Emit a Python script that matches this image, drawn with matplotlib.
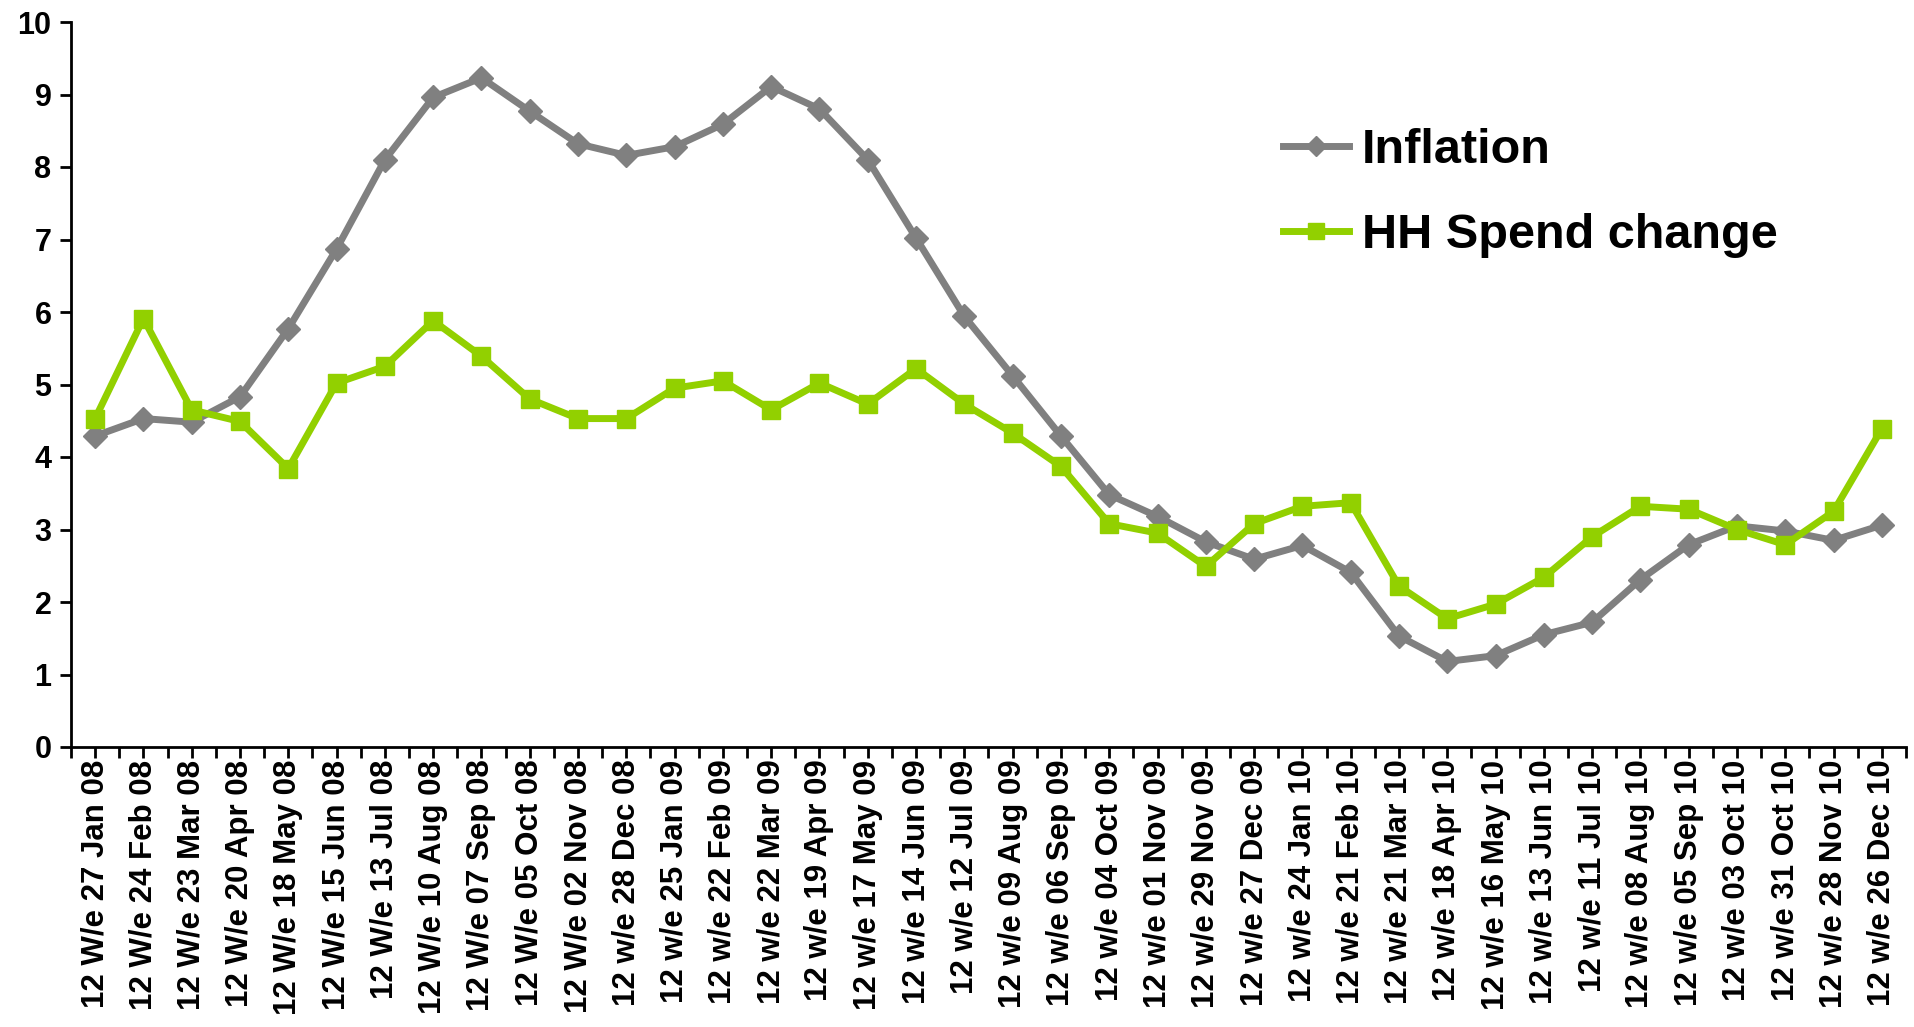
import matplotlib
matplotlib.use("Agg")
import matplotlib.pyplot as plt
from matplotlib.ticker import FixedLocator

plt.rcParams['font.family'] = ['Liberation Sans', 'DejaVu Sans']
plt.rcParams['font.weight'] = 'bold'

labels = [
    "12 W/e 27 Jan 08", "12 W/e 24 Feb 08", "12 W/e 23 Mar 08", "12 W/e 20 Apr 08",
    "12 W/e 18 May 08", "12 W/e 15 Jun 08", "12 W/e 13 Jul 08", "12 W/e 10 Aug 08",
    "12 W/e 07 Sep 08", "12 W/e 05 Oct 08", "12 W/e 02 Nov 08", "12 w/e 28 Dec 08",
    "12 w/e 25 Jan 09", "12 w/e 22 Feb 09", "12 w/e 22 Mar 09", "12 w/e 19 Apr 09",
    "12 w/e 17 May 09", "12 w/e 14 Jun 09", "12 w/e 12 Jul 09", "12 w/e 09 Aug 09",
    "12 w/e 06 Sep 09", "12 w/e 04 Oct 09", "12 w/e 01 Nov 09", "12 w/e 29 Nov 09",
    "12 w/e 27 Dec 09", "12 w/e 24 Jan 10", "12 w/e 21 Feb 10", "12 w/e 21 Mar 10",
    "12 w/e 18 Apr 10", "12 w/e 16 May 10", "12 w/e 13 Jun 10", "12 w/e 11 Jul 10",
    "12 w/e 08 Aug 10", "12 w/e 05 Sep 10", "12 w/e 03 Oct 10", "12 w/e 31 Oct 10",
    "12 w/e 28 Nov 10", "12 w/e 26 Dec 10",
]

inflation = [4.29, 4.53, 4.48, 4.83, 5.77, 6.87, 8.10, 8.96, 9.23, 8.77,
             8.32, 8.16, 8.28, 8.59, 9.11, 8.80, 8.10, 7.02, 5.94, 5.12,
             4.29, 3.48, 3.18, 2.83, 2.59, 2.78, 2.41, 1.53, 1.18, 1.26,
             1.55, 1.72, 2.31, 2.79, 3.05, 2.98, 2.85, 3.06]

hh_spend = [4.53, 5.91, 4.65, 4.49, 3.84, 5.02, 5.25, 5.88, 5.39, 4.80,
            4.53, 4.53, 4.95, 5.05, 4.65, 5.02, 4.73, 5.22, 4.73, 4.33,
            3.87, 3.08, 2.95, 2.49, 3.08, 3.32, 3.37, 2.22, 1.77, 1.97,
            2.34, 2.90, 3.32, 3.28, 3.00, 2.79, 3.25, 4.39]

series_names = ["Inflation", "HH Spend change"]
yticks = [0, 1, 2, 3, 4, 5, 6, 7, 8, 9, 10]

gray = "#808080"
green = "#92D000"

W, H = 1914, 1027
fig = plt.figure(figsize=(W / 100, H / 100), dpi=100)
ax = fig.add_axes([71 / W, 1 - 747 / H, (1906 - 71) / W, (747 - 22) / H])

x = list(range(len(labels)))
ax.plot(x, inflation, color=gray, lw=5, marker="D", markersize=12,
        markerfacecolor=gray, markeredgecolor=gray, label=series_names[0], zorder=3)
ax.plot(x, hh_spend, color=green, lw=5, marker="s", markersize=13,
        markerfacecolor=green, markeredgecolor=green, label=series_names[1], zorder=4)

ax.set_xlim(-0.5, len(labels) - 0.5)
ax.set_ylim(0, 10)
ax.set_yticks(yticks)
ax.set_yticklabels([str(t) for t in yticks], fontsize=22, fontweight="bold")
ax.set_xticks(x)
ax.set_xticklabels(labels, rotation=90, fontsize=22.5, fontweight="bold", va="top")
ax.xaxis.set_minor_locator(FixedLocator([i - 0.5 for i in range(len(labels) + 1)]))

for s in ["top", "right"]:
    ax.spines[s].set_visible(False)
for s in ["left", "bottom"]:
    ax.spines[s].set_linewidth(2)
    ax.spines[s].set_color("black")

ax.tick_params(axis="y", direction="out", length=8, width=2, pad=6)
ax.tick_params(axis="x", which="major", direction="out", length=8, width=2, pad=1)
ax.tick_params(axis="x", which="minor", direction="out", length=8, width=2)

leg = ax.legend(loc="upper left", bbox_to_anchor=(1283 / W, 1 - 128 / H),
                bbox_transform=fig.transFigure, frameon=False,
                prop={"size": 35, "weight": "bold"}, handlelength=1.36,
                handletextpad=0.27, labelspacing=0.83, borderpad=0,
                borderaxespad=0, markerscale=0.85)
for line in leg.get_lines():
    line.set_linewidth(5)

fig.savefig("out.png", dpi=100)
